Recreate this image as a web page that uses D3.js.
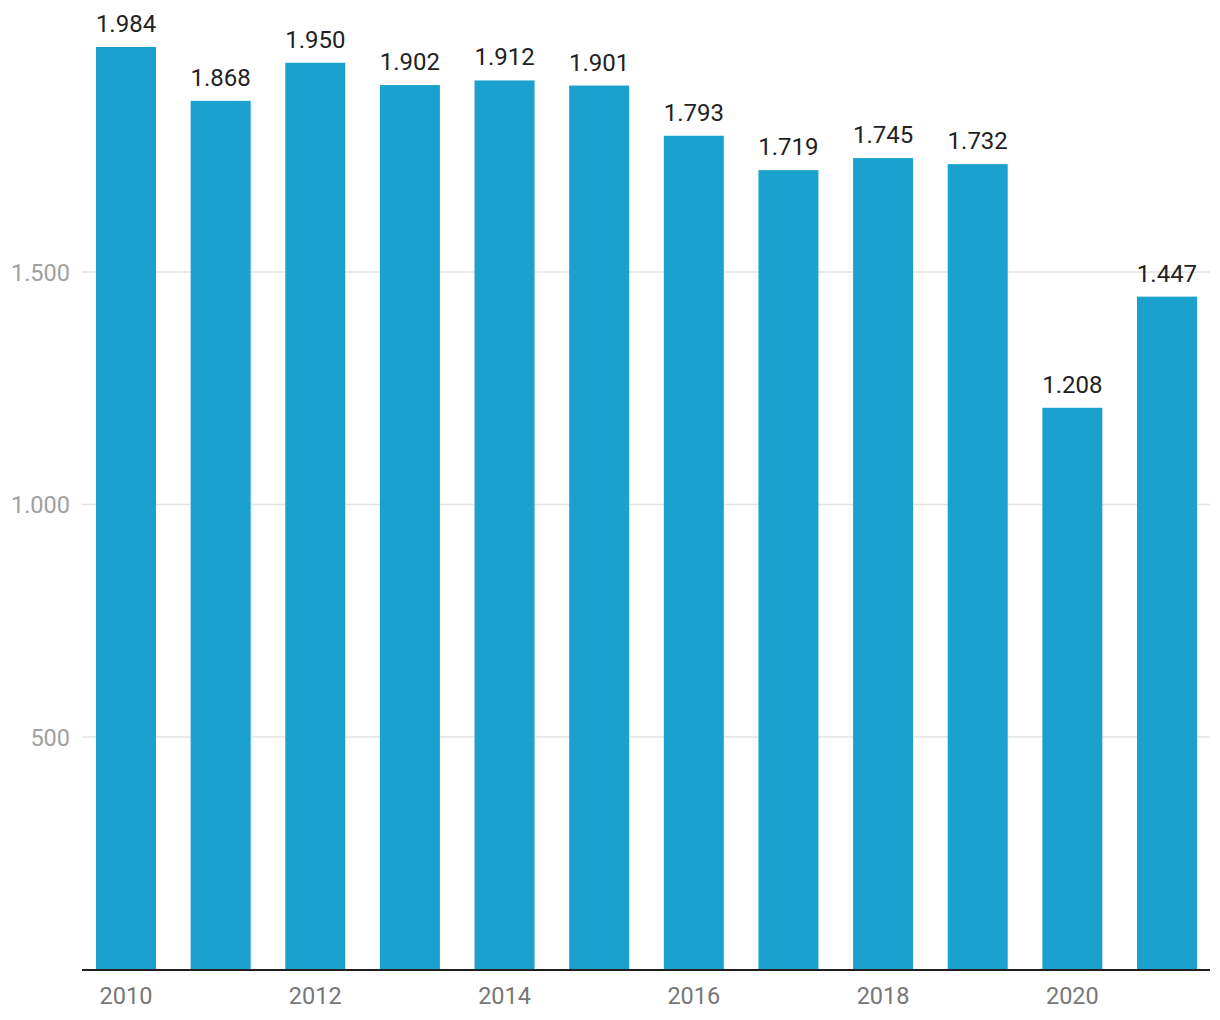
<!DOCTYPE html>
<html><head><meta charset="utf-8">
<script src="https://cdn.jsdelivr.net/npm/d3@7"></script>
<style>body{margin:0;background:#fff;font-family:Roboto,sans-serif;}</style>
</head><body><svg id="c" width="1220" height="1020"></svg>
<script>
const years = [2010,2011,2012,2013,2014,2015,2016,2017,2018,2019,2020,2021];
const values = [1984,1868,1950,1902,1912,1901,1793,1719,1745,1732,1208,1447];
const yTicks = [500,1000,1500];
const xTickLabels = [2010,2012,2014,2016,2018,2020];

const svg = d3.select("#c");
const x = d3.scaleBand().domain(years).range([78.7,1214.3]).paddingInner(0.366).paddingOuter(0.183);
const y = d3.scaleLinear().domain([0,500]).range([969.5,737]);

const fmt = v => d3.format(",")(v).replace(/,/g,".");

svg.append("g").selectAll("line").data(yTicks).join("line")
  .attr("x1",82).attr("x2",1210).attr("y1",d=>y(d)).attr("y2",d=>y(d))
  .attr("stroke","#e3e3e3").attr("stroke-width",1.5);
svg.append("g").selectAll("text").data(yTicks).join("text")
  .attr("x",70).attr("y",d=>y(d)+8.5).attr("text-anchor","end")
  .attr("fill","#a0a0a0").attr("font-size",23.5).text(fmt);

svg.append("g").selectAll("rect").data(years).join("rect")
  .attr("x",d=>x(d)).attr("width",x.bandwidth())
  .attr("y",(d,i)=>y(values[i])).attr("height",(d,i)=>y(0)-y(values[i]))
  .attr("fill","#1aa1cd");

svg.append("g").selectAll("text").data(years).join("text")
  .attr("x",d=>x(d)+x.bandwidth()/2).attr("y",(d,i)=>y(values[i])-15)
  .attr("text-anchor","middle").attr("fill","#222").attr("font-size",24).text((d,i)=>fmt(values[i]));

svg.append("line").attr("x1",82).attr("x2",1210).attr("y1",970).attr("y2",970)
  .attr("stroke","#1f1f1f").attr("stroke-width",2);

svg.append("g").selectAll("text").data(xTickLabels).join("text")
  .attr("x",d=>x(d)+x.bandwidth()/2).attr("y",1004).attr("text-anchor","middle")
  .attr("fill","#777").attr("font-size",23.5).text(d=>d);
</script></body></html>
